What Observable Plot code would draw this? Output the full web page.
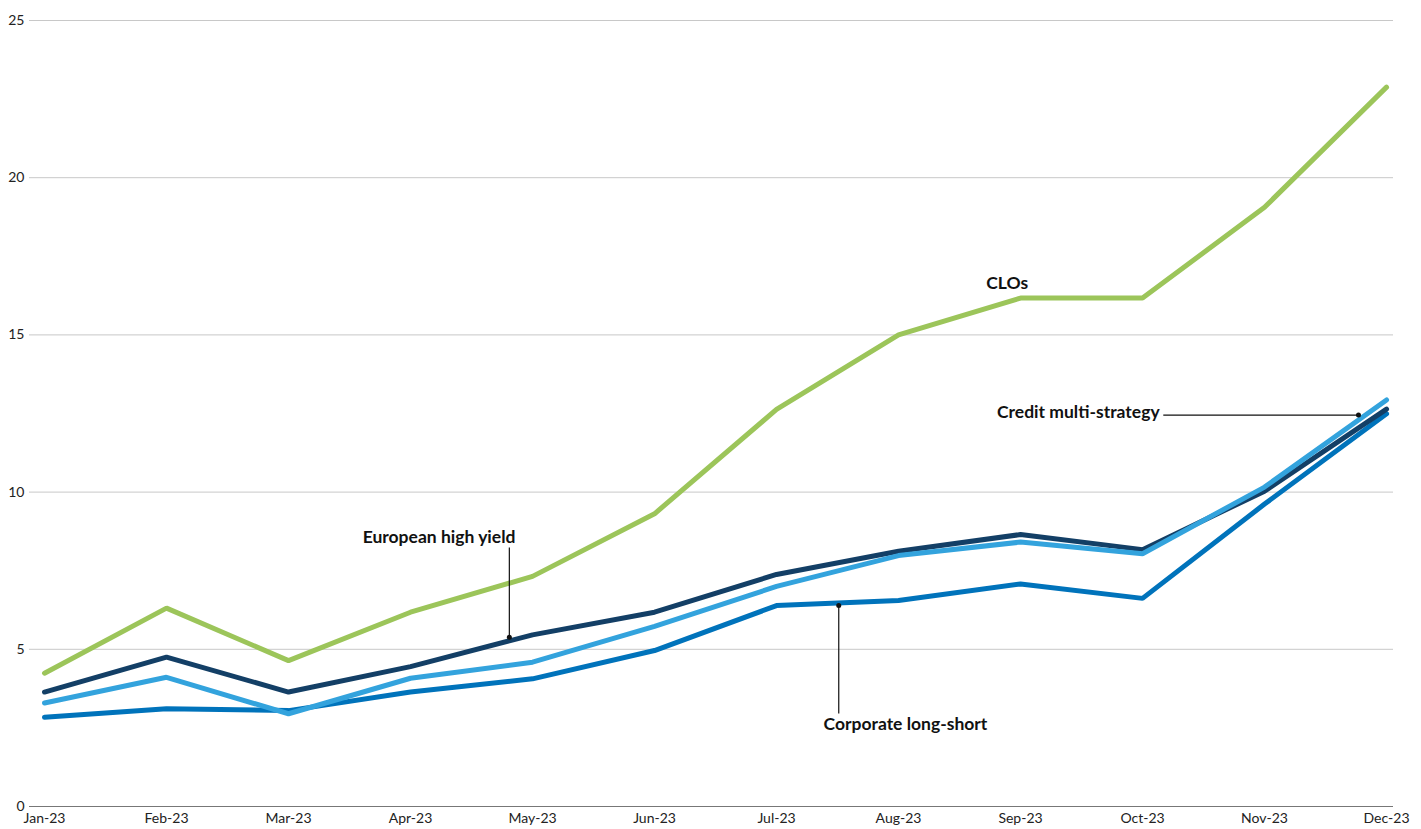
<!DOCTYPE html>
<html>
<head>
<meta charset="utf-8">
<script src="https://cdn.jsdelivr.net/npm/d3@7"></script>
<script src="https://cdn.jsdelivr.net/npm/@observablehq/plot@0.6"></script>
<style>
  html, body { margin: 0; padding: 0; background: #fff; }
  #chart svg { display: block; }
</style>
</head>
<body>
<div id="chart"></div>
<script>
const months = ["Jan-23","Feb-23","Mar-23","Apr-23","May-23","Jun-23","Jul-23","Aug-23","Sep-23","Oct-23","Nov-23","Dec-23"];
const clos     = [4.24, 6.31, 4.64, 6.18, 7.32, 9.31, 12.63, 15.00, 16.17, 16.17, 19.06, 22.88];
const euroHY   = [3.64, 4.75, 3.64, 4.45, 5.46, 6.18, 7.38, 8.12, 8.65, 8.17, 10.03, 12.64];
const creditMS = [3.29, 4.11, 2.95, 4.08, 4.59, 5.73, 7.00, 7.98, 8.41, 8.04, 10.16, 12.93];
const corpLS   = [2.84, 3.11, 3.05, 3.64, 4.06, 4.96, 6.39, 6.55, 7.08, 6.62, 9.62, 12.49];
const yTicks = [0, 5, 10, 15, 20, 25];

const seriesNames = ["CLOs", "Corporate long-short", "European high yield", "Credit multi-strategy"];
const seriesValues = [clos, corpLS, euroHY, creditMS];
const seriesColors = ["#9cc55a", "#0073bb", "#133f66", "#33a3dd"];

// annotation leaders (dot on line -> label)
const leaders = [
  {name: "European high yield", x1: 3.81, y1: 5.38, x2: 3.81, y2: 8.24},
  {name: "Corporate long-short", x1: 6.51, y1: 6.39, x2: 6.51, y2: 2.96},
  {name: "Credit multi-strategy", x1: 10.77, y1: 12.45, x2: 9.17, y2: 12.45}
];
const labels = [
  {text: "CLOs", x: 7.89, y: 16.63, anchor: "middle"},
  {text: "European high yield", x: 3.86, y: 8.56, anchor: "end"},
  {text: "Corporate long-short", x: 6.385, y: 2.61, anchor: "start"},
  {text: "Credit multi-strategy", x: 9.14, y: 12.53, anchor: "end"}
];

const rows = [];
seriesNames.forEach((name, s) => {
  seriesValues[s].forEach((v, i) => rows.push({series: name, i, value: v}));
});

const labelStyle = {x: "x", y: "y", text: "text", fontWeight: "bold", fontSize: 17.5, fill: "#111"};

const chart = Plot.plot({
  width: 1421,
  height: 829,
  marginLeft: 29,
  marginRight: 28,
  marginTop: 20,
  marginBottom: 23,
  style: {fontFamily: "Lato, 'Noto Sans', sans-serif", fontSize: "14px", color: "#222", background: "#fff"},
  x: {domain: [-0.123, 11.057], label: null},
  y: {domain: [0, 25], label: null},
  color: {domain: seriesNames, range: seriesColors},
  marks: [
    Plot.ruleY(yTicks.filter(d => d > 0), {stroke: "#c8c8c8", strokeWidth: 1}),
    Plot.ruleY([0], {stroke: "#777", strokeWidth: 1.2}),
    Plot.axisX({tickSize: 0, tickPadding: 7, fontSize: 14, ticks: d3.range(12), tickFormat: i => months[i], label: null}),
    Plot.axisY({tickSize: 0, tickPadding: 5, fontSize: 14, ticks: yTicks, label: null}),
    Plot.line(rows, {x: "i", y: "value", z: "series", stroke: "series", strokeWidth: 5, strokeLinejoin: "miter", strokeLinecap: "round"}),
    Plot.link(leaders, {x1: "x1", y1: "y1", x2: "x2", y2: "y2", stroke: "#111", strokeWidth: 1.2}),
    Plot.dot(leaders, {x: "x1", y: "y1", r: 2.5, fill: "#111"}),
    Plot.text(labels.filter(d => d.anchor === "middle"), {...labelStyle, textAnchor: "middle"}),
    Plot.text(labels.filter(d => d.anchor === "end"), {...labelStyle, textAnchor: "end"}),
    Plot.text(labels.filter(d => d.anchor === "start"), {...labelStyle, textAnchor: "start"})
  ]
});
document.getElementById("chart").appendChild(chart);
</script>
</body>
</html>
